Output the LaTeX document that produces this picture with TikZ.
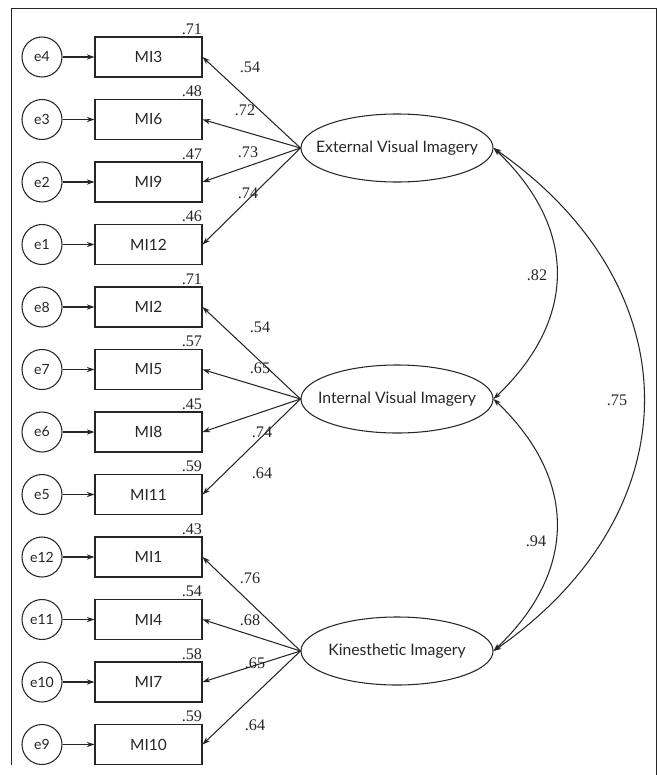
\documentclass[tikz,border=0pt]{standalone}
\usepackage{fontspec}
\setmainfont{Lato}
\newfontfamily\numfont{Liberation Serif}
\usetikzlibrary{arrows.meta,%
		shapes.geometric}

\tikzset{
	err/.style={circle,draw,minimum size=1cm,inner sep=0pt,font=\fontsize{10}{12}\selectfont},
	obs/.style={rectangle,draw,minimum width=2.675cm,minimum height=1cm,inner sep=0pt,font=\fontsize{11}{13}\selectfont},
	lat/.style={ellipse,draw,minimum width=4.8cm,minimum height=1.7cm,inner xsep=-4.5mm,inner ysep=0pt,font=\fontsize{11.2}{13}\selectfont},
	val/.style={inner sep=0pt,font=\numfont\fontsize{11.5}{13}\selectfont},
	freccia/.style={-{Stealth[length=5.5pt,width=3.8pt]}},
	dfreccia/.style={{Stealth[length=5.5pt,width=3.8pt]}-{Stealth[length=5.5pt,width=3.8pt]}}
}

\begin{document}
\begin{tikzpicture}[x=0.025cm,y=-0.025cm,line width=0.75pt,color=black!85]
\useasboundingbox (0,0) rectangle (657,775);
%la cornice
\draw[line width=0.6pt] (11,765) -- (11,8) -- (656,8) -- (656,775);

%i fattori
\node[lat] (ext) at (397,148) {External Visual Imagery};
\node[lat] (int) at (397,399) {Internal Visual Imagery};
\node[lat] (kin) at (397,651) {Kinesthetic Imagery};

%errori e item
\foreach \e/\m/\r [count=\i] in {4/3/.71,3/6/.48,2/9/.47,1/12/.46,%
		8/2/.71,7/5/.57,6/8/.45,5/11/.59,%
		12/1/.43,11/4/.54,10/7/.58,9/10/.59}{
	\node[err] (err\i) at (42,{57+62.5*(\i-1)}) {e\e};
	\node[obs] (obs\i) at (148.5,{57+62.5*(\i-1)}) {MI\m};
	\node[val,anchor=south east] (r\i) at ([yshift=1pt]obs\i.north east) {\r};
	\draw[freccia] (err\i) -- (obs\i);
}

%le saturazioni
\foreach \f/\i/\x/\y/\l in {ext/1/250/67/.54,ext/2/245/110/.72,ext/3/248/152/.73,ext/4/248/193/.74,%
		int/5/260/327/.54,int/6/260/368/.65,int/7/262/432/.74,int/8/262/473/.64,%
		kin/9/250/578/.76,kin/10/250/620/.68,kin/11/255/663/.65,kin/12/255/725/.64}{
	\draw[freccia] (\f.west) -- (obs\i.east);
	\node[val] (l\i) at (\x,\y) {\l};
}

%le correlazioni
\draw[dfreccia] (ext.east) .. controls +(84,80) and +(84,-80) .. (int.east);
\draw[dfreccia] (int.east) .. controls +(84,80) and +(84,-80) .. (kin.east);
\draw[dfreccia] (ext.east) .. controls +(200,140) and +(200,-140) .. (kin.east);
\node[val] (c1) at (537,275) {.82};
\node[val] (c2) at (617,400) {.75};
\node[val] (c3) at (536,541) {.94};

\end{tikzpicture}
\end{document}
